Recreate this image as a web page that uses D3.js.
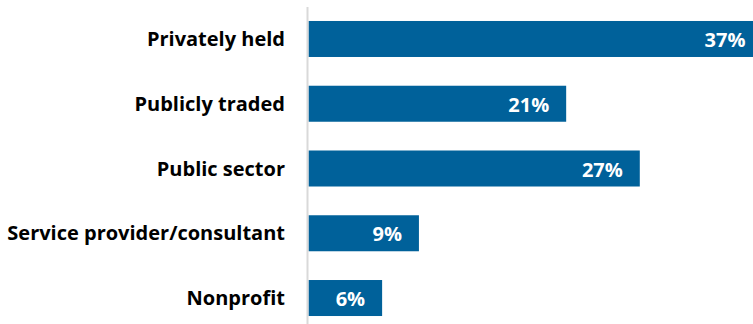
<!DOCTYPE html>
<html>
<head>
<meta charset="utf-8">
<script src="https://cdn.jsdelivr.net/npm/d3@7"></script>
<style>
html, body { margin: 0; padding: 0; background: #ffffff; }
svg { display: block; }
</style>
</head>
<body>
<svg id="chart" width="753" height="324"></svg>
<script>
const categories = ["Privately held", "Publicly traded", "Public sector", "Service provider/consultant", "Nonprofit"];
const values = [37, 21, 27, 9, 6];
const valueLabels = ["37%", "21%", "27%", "9%", "6%"];

const W = 753, H = 324;
const svg = d3.select("#chart");
const axisX = 308.5;
const x = d3.scaleLinear().domain([0, 37]).range([axisX, axisX + 37 * 12.27]);
const y = d3.scaleBand().domain(categories).range([-11.4, 348.4]).paddingInner(0.444).paddingOuter(0.5);

const font = "'Open Sans', 'DejaVu Sans', sans-serif";

svg.append("g").selectAll("rect")
  .data(categories)
  .join("rect")
  .attr("x", x(0))
  .attr("y", d => y(d))
  .attr("width", (d, i) => x(values[i]) - x(0))
  .attr("height", y.bandwidth())
  .attr("fill", "#00619a");

svg.append("line")
  .attr("x1", axisX - 1).attr("x2", axisX - 1)
  .attr("y1", 7).attr("y2", H)
  .attr("stroke", "#d9d9d9").attr("stroke-width", 2);

svg.append("g").selectAll("text")
  .data(categories)
  .join("text")
  .attr("x", 285)
  .attr("y", d => y(d) + y.bandwidth() / 2 + 7)
  .attr("text-anchor", "end")
  .attr("font-family", font)
  .attr("font-weight", 700)
  .attr("font-size", 20)
  .attr("fill", "#000000")
  .text(d => d);

svg.append("g").selectAll("text")
  .data(categories)
  .join("text")
  .attr("x", (d, i) => x(values[i]) - 17)
  .attr("y", d => y(d) + y.bandwidth() / 2 + 8)
  .attr("text-anchor", "end")
  .attr("font-family", font)
  .attr("font-weight", 700)
  .attr("font-size", 20)
  .attr("fill", "#ffffff")
  .text((d, i) => valueLabels[i]);
</script>
</body>
</html>
